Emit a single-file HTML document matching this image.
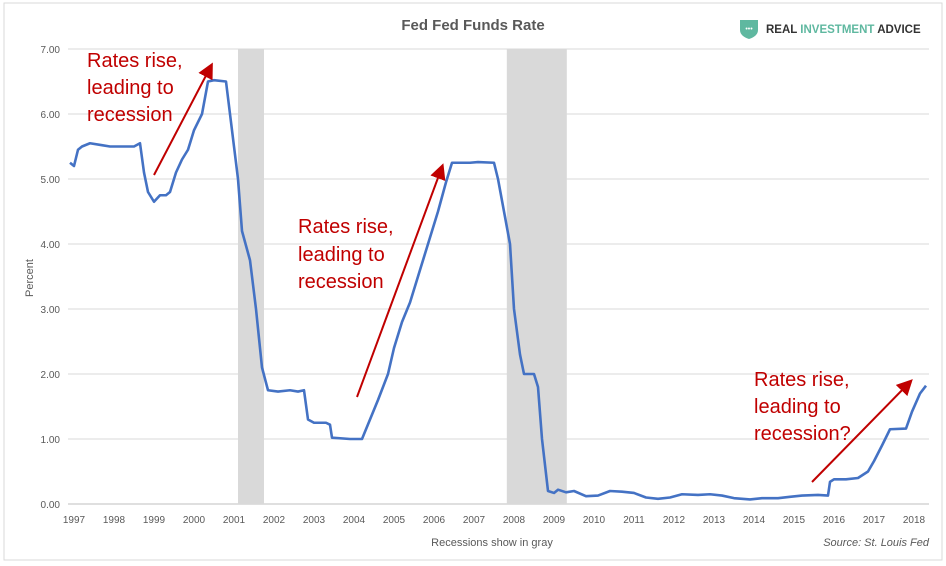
<!DOCTYPE html>
<html><head><meta charset="utf-8">
<style>
body{margin:0;background:#fff;}
svg{display:block;font-family:"Liberation Sans",sans-serif;}
</style></head>
<body>
<svg id="c" width="946" height="566">
<rect x="4" y="3" width="938" height="557" fill="#fff" stroke="#d9d9d9"/>
<text x="473" y="30" text-anchor="middle" font-size="15" font-weight="bold" fill="#595959">Fed Fed Funds Rate</text>
<g>
<path d="M740 20 h18 v10 q0 6 -9 9 q-9 -3 -9 -9z" fill="#5fb8a0"/>
<text x="749" y="31" text-anchor="middle" font-size="7" fill="#fff">•••</text>
<text x="766" y="33" font-size="11.5" font-weight="bold" fill="#333">REAL <tspan fill="#5fb8a0">INVESTMENT</tspan> ADVICE</text>
</g>
<g id="grid"></g><g id="rec"></g><g id="axes"></g><g id="series"></g>
<text transform="translate(33,278) rotate(-90)" text-anchor="middle" font-size="11" fill="#595959">Percent</text>
<text x="492" y="546" text-anchor="middle" font-size="11" fill="#595959">Recessions show in gray</text>
<text x="929" y="546" text-anchor="end" font-size="11" font-style="italic" fill="#595959">Source: St. Louis Fed</text>
<defs><marker id="ah" markerWidth="8" markerHeight="8" refX="6" refY="4" orient="auto"><path d="M0,0 L8,4 L0,8z" fill="#c00000"/></marker></defs>
<g fill="#c00000" font-size="20">
<text x="87" y="67">Rates rise,</text><text x="87" y="94">leading to</text><text x="87" y="121">recession</text>
<line x1="154" y1="175" x2="211" y2="66" stroke="#c00000" stroke-width="2" marker-end="url(#ah)"/></g>
<g fill="#c00000" font-size="20">
<text x="298" y="233">Rates rise,</text><text x="298" y="261">leading to</text><text x="298" y="288">recession</text>
<line x1="357" y1="397" x2="442" y2="167" stroke="#c00000" stroke-width="2" marker-end="url(#ah)"/></g>
<g fill="#c00000" font-size="20">
<text x="754" y="386">Rates rise,</text><text x="754" y="413">leading to</text><text x="754" y="440">recession?</text>
<line x1="812" y1="482" x2="910" y2="382" stroke="#c00000" stroke-width="2" marker-end="url(#ah)"/></g>
</svg>
<script>
const yTicks=[0,1,2,3,4,5,6,7];
const years=[1997,1998,1999,2000,2001,2002,2003,2004,2005,2006,2007,2008,2009,2010,2011,2012,2013,2014,2015,2016,2017,2018];
const recStart=[2001.2,2007.92];
const recEnd=[2001.85,2009.42];
const times=[1997.0,1997.1,1997.2,1997.3,1997.5,1997.8,1998.0,1998.3,1998.6,1998.75,1998.85,1998.95,1999.1,1999.25,1999.4,1999.5,1999.65,1999.8,1999.95,2000.1,2000.3,2000.45,2000.6,2000.9,2001.0,2001.1,2001.2,2001.3,2001.5,2001.65,2001.8,2001.95,2002.2,2002.5,2002.7,2002.85,2002.95,2003.1,2003.4,2003.5,2003.55,2004.0,2004.3,2004.5,2004.7,2004.95,2005.1,2005.3,2005.5,2005.7,2005.95,2006.2,2006.4,2006.55,2007.0,2007.2,2007.6,2007.7,2007.85,2008.0,2008.1,2008.25,2008.35,2008.6,2008.7,2008.8,2008.95,2009.1,2009.2,2009.4,2009.6,2009.9,2010.2,2010.5,2010.8,2011.1,2011.4,2011.7,2012.0,2012.3,2012.7,2013.0,2013.3,2013.6,2014.0,2014.3,2014.7,2015.0,2015.3,2015.7,2015.95,2016.0,2016.1,2016.4,2016.7,2016.95,2017.1,2017.3,2017.5,2017.9,2018.05,2018.25,2018.4];
const rates=[5.25,5.2,5.45,5.5,5.55,5.52,5.5,5.5,5.5,5.55,5.1,4.8,4.65,4.75,4.75,4.8,5.1,5.3,5.45,5.75,6.0,6.5,6.52,6.5,6.0,5.5,5.0,4.2,3.75,3.0,2.1,1.75,1.73,1.75,1.73,1.75,1.3,1.25,1.25,1.22,1.02,1.0,1.0,1.3,1.6,2.0,2.4,2.8,3.1,3.5,4.0,4.5,4.95,5.25,5.25,5.26,5.25,5.0,4.5,4.0,3.0,2.3,2.0,2.0,1.8,1.0,0.2,0.17,0.22,0.18,0.2,0.12,0.13,0.2,0.19,0.17,0.1,0.08,0.1,0.15,0.14,0.15,0.13,0.09,0.07,0.09,0.09,0.11,0.13,0.14,0.13,0.34,0.38,0.38,0.4,0.5,0.66,0.9,1.15,1.16,1.42,1.7,1.82];
const NS='http://www.w3.org/2000/svg';
const X=t=>70+(t-1997)*40, Y=v=>504-v*65;
function mk(tag,attrs,parent){const e=document.createElementNS(NS,tag);for(const k in attrs)e.setAttribute(k,attrs[k]);document.getElementById(parent).appendChild(e);return e;}
yTicks.forEach(v=>{
 const l=mk('line',{x1:68,x2:929,y1:Y(v),y2:Y(v),stroke:v===0?'#bfbfbf':'#d9d9d9'},'grid');
 
 
 const t=mk('text',{x:60,y:Y(v)+4,'text-anchor':'end','font-size':10,fill:'#595959'},'axes');t.textContent=v.toFixed(2);
 
 
});
years.forEach(y=>{
 const t=mk('text',{x:X(y)+4,y:523,'text-anchor':'middle','font-size':10,fill:'#595959'},'axes');t.textContent=y;
 
 
});
recStart.forEach((s,i)=>{
 const r=mk('rect',{x:X(s),y:Y(7),width:X(recEnd[i])-X(s),height:Y(0)-Y(7),fill:'#d9d9d9'},'rec');
 
 
});
const p=mk('polyline',{points:times.map((t,i)=>X(t)+','+Y(rates[i])).join(' '),fill:'none',stroke:'#4472c4','stroke-width':2.6,'stroke-linejoin':'round'},'series');


</script>
</body></html>
